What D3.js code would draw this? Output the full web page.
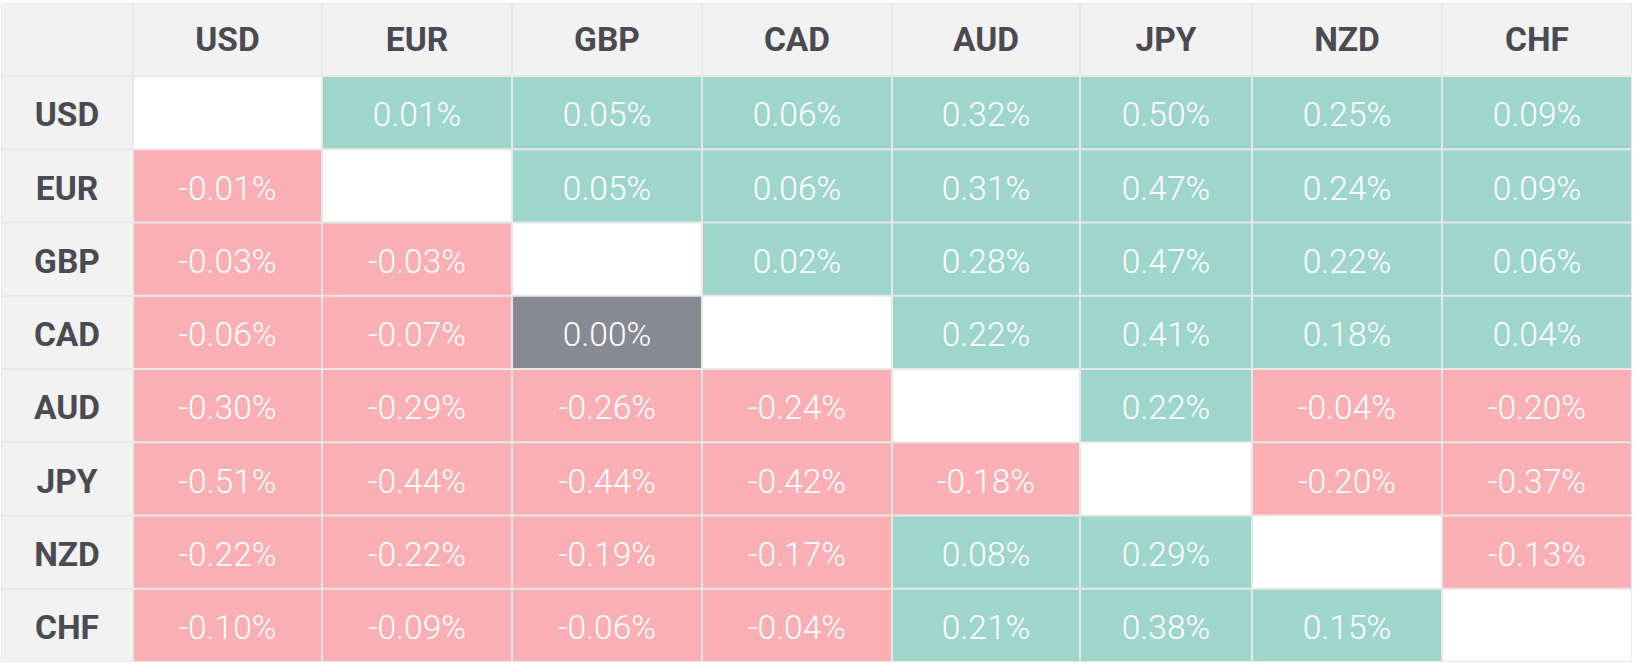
<!DOCTYPE html>
<html>
<head>
<meta charset="utf-8">
<script src="https://cdnjs.cloudflare.com/ajax/libs/d3/7.8.5/d3.min.js"></script>
<style>
  html, body { margin: 0; padding: 0; background: #ffffff; }
  svg { display: block; }
</style>
</head>
<body>
<svg id="chart" width="1636" height="666"></svg>
<script>
// ---- data ----
const currencies = ["USD", "EUR", "GBP", "CAD", "AUD", "JPY", "NZD", "CHF"];
const rowUSD = [null, 0.01, 0.05, 0.06, 0.32, 0.50, 0.25, 0.09];
const rowEUR = [-0.01, null, 0.05, 0.06, 0.31, 0.47, 0.24, 0.09];
const rowGBP = [-0.03, -0.03, null, 0.02, 0.28, 0.47, 0.22, 0.06];
const rowCAD = [-0.06, -0.07, 0.00, null, 0.22, 0.41, 0.18, 0.04];
const rowAUD = [-0.30, -0.29, -0.26, -0.24, null, 0.22, -0.04, -0.20];
const rowJPY = [-0.51, -0.44, -0.44, -0.42, -0.18, null, -0.20, -0.37];
const rowNZD = [-0.22, -0.22, -0.19, -0.17, 0.08, 0.29, null, -0.13];
const rowCHF = [-0.10, -0.09, -0.06, -0.04, 0.21, 0.38, 0.15, null];
const matrix = [rowUSD, rowEUR, rowGBP, rowCAD, rowAUD, rowJPY, rowNZD, rowCHF];

(function () {
// ---- layout ----
const tLeft = 1, tTop = 3, tRight = 1632, tBottom = 662;
const headerW = 132, headerH = 73;
const colW = [189, 190, 190, 190, 188, 172, 190, 190];
const scaleW = (tRight - tLeft - headerW) / d3.sum(colW);
const edges = [tLeft + headerW];
colW.forEach(w => edges.push(edges[edges.length - 1] + w * scaleW));
const x = d3.scaleOrdinal().domain(currencies).range(edges.slice(0, 8));
const wOf = d3.scaleOrdinal().domain(currencies).range(colW.map(w => w * scaleW));
const y = d3.scaleBand().domain(currencies).range([tTop + headerH, tBottom]);

const color = v => v === null ? "#ffffff" : v > 0 ? "#9fd6cc" : v < 0 ? "#f9afb4" : "#878a93";
const locale = d3.formatLocale({ decimal: ".", thousands: ",", grouping: [3], currency: ["$", ""], minus: "-" });
const fmt = v => locale.format(".2f")(v) + "%";

const svg = d3.select("#chart");
const border = "#e8e8e8";
const g = 1;
const fs = 33.5;
const bodyShift = 2;

svg.append("rect").attr("x", tLeft).attr("y", tTop)
  .attr("width", tRight - tLeft).attr("height", tBottom - tTop)
  .attr("fill", border);

svg.append("rect").attr("x", tLeft + 1).attr("y", tTop + 1)
  .attr("width", headerW - 2).attr("height", headerH - 2).attr("fill", "#f2f2f2");
svg.selectAll(".colhead").data(currencies).enter().append("g").attr("class", "colhead")
  .each(function(c) {
    const s = d3.select(this);
    s.append("rect").attr("x", x(c) + g).attr("y", tTop + 1)
      .attr("width", wOf(c) - 2 * g).attr("height", headerH - 2).attr("fill", "#f2f2f2");
    s.append("text").attr("x", x(c) + wOf(c) / 2).attr("y", tTop + headerH / 2)
      .attr("dy", "0.35em").attr("text-anchor", "middle")
      .attr("font-family", "Roboto, sans-serif").attr("font-weight", 700)
      .attr("font-size", fs).attr("fill", "#4a4a52").text(c);
  });

svg.selectAll(".rowhead").data(currencies).enter().append("g").attr("class", "rowhead")
  .each(function(r) {
    const s = d3.select(this);
    s.append("rect").attr("x", tLeft + 1).attr("y", y(r) + g)
      .attr("width", headerW - 2).attr("height", y.bandwidth() - 2 * g).attr("fill", "#f2f2f2");
    s.append("text").attr("x", tLeft + headerW / 2).attr("y", y(r) + y.bandwidth() / 2 + bodyShift)
      .attr("dy", "0.35em").attr("text-anchor", "middle")
      .attr("font-family", "Roboto, sans-serif").attr("font-weight", 700)
      .attr("font-size", fs).attr("fill", "#4a4a52").text(r);
  });

const cells = [];
matrix.forEach((row, i) => row.forEach((v, j) => cells.push({ r: currencies[i], c: currencies[j], v })));
const cg = svg.selectAll(".cell").data(cells).enter().append("g").attr("class", "cell");
cg.append("rect")
  .attr("x", d => x(d.c) + g).attr("y", d => y(d.r) + g)
  .attr("width", d => wOf(d.c) - 2 * g).attr("height", y.bandwidth() - 2 * g)
  .attr("fill", d => color(d.v));
cg.filter(d => d.v !== null).append("text")
  .attr("x", d => x(d.c) + wOf(d.c) / 2).attr("y", d => y(d.r) + y.bandwidth() / 2 + bodyShift)
  .attr("dy", "0.35em").attr("text-anchor", "middle")
  .attr("font-family", "Roboto, sans-serif").attr("font-weight", 300)
  .attr("font-size", fs).attr("fill", "#ffffff").text(d => fmt(d.v));
})();
</script>
</body>
</html>
